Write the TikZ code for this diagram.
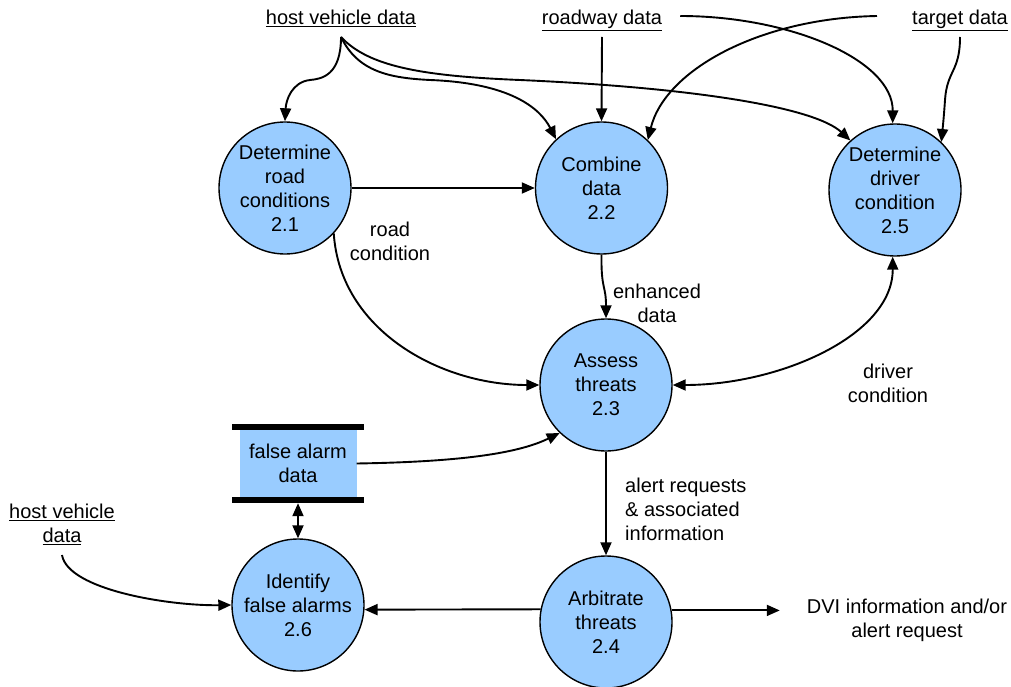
\documentclass[tikz,border=0pt]{standalone}
\usepackage{fontspec}
\setmainfont{Liberation Sans}
\usetikzlibrary{arrows.meta,calc}
\definecolor{procblue}{RGB}{153,204,255}
\begin{document}
\begin{tikzpicture}[x=1pt,y=-1pt,
  every node/.style={font=\fontsize{20}{24}\selectfont},
  proc/.style={circle,draw=black,line width=1.4pt,fill=procblue,minimum size=132pt,inner sep=0pt,align=center},
  lbl/.style={align=center,inner sep=0pt},
  src/.style={inner sep=0pt,align=center},
  flow/.style={line width=1.9pt,-{Triangle[length=13pt,width=11pt]}},
  bflow/.style={line width=1.9pt,{Triangle[length=13pt,width=11pt]}-{Triangle[length=13pt,width=11pt]}},
]
\useasboundingbox (0,0) rectangle (1011,687);

% processes
\node[proc] (c21) at (285,188) {Determine\\road\\conditions\\2.1};
\node[proc] (c22) at (601.5,188) {Combine\\data\\2.2};
\node[proc] (c25) at (895,190) {Determine\\driver\\condition\\2.5};
\node[proc] (c23) at (606,385) {Assess\\threats\\2.3};
\node[proc] (c26) at (298,605) {Identify\\false alarms\\2.6};
\node[proc] (c24) at (606,622) {Arbitrate\\threats\\2.4};

% data store
\node[fill=procblue,minimum width=117pt,minimum height=67pt,inner sep=0pt,align=center] (store) at (298,463.5) {false alarm\\data};
\fill ($(store.north west)+(-7,-6)$) rectangle ($(store.north east)+(7,0)$);
\fill ($(store.south west)+(-7,0)$) rectangle ($(store.south east)+(7,6)$);

% sources / sinks
\node[src,anchor=base] (hv) at (341,25) {\underline{host vehicle data}};
\node[src,anchor=base] (rd) at (602,25) {\underline{roadway data}};
\node[src,anchor=base] (td) at (960,25) {\underline{target data}};
\node[src] (hv2) at (62,524.5) {\underline{host vehicle}\\\underline{data}};
\node[lbl] (dvi) at (907,620) {DVI information and/or\\alert request};

% flow labels
\node[lbl] (lrc) at (390,241) {road\\condition};
\node[lbl] (led) at (657,303) {enhanced\\data};
\node[lbl] (ldc) at (888,383) {driver\\condition};
\node[lbl,align=left,anchor=west] (lar) at (625,509) {alert requests\\\& associated\\information};

% connectors from the top sources
\draw[flow] ($(hv.base)+(0,12)$) .. controls (341,75) and (322,79) .. (310,80) .. controls (292,82) and (286,100) .. (c21.north);
\draw[flow] ($(hv.base)+(0,12)$) .. controls (358,72) and (390,78) .. (430,80) .. controls (510,83) and (540,108) .. (c22.133);
\draw[flow] ($(hv.base)+(0,12)$) .. controls (368,66) and (420,76) .. (520,80) .. controls (700,88) and (815,108) .. (c25.132);
\draw[flow] ($(rd.base)+(0,12)$) -- (c22.north);
\draw[flow] ($(rd.base east)+(18,-9)$) .. controls (790,16) and (893,60) .. (c25.92);
\draw[flow] ($(td.base west)+(-35,-9)$) .. controls (760,18) and (665,70) .. (c22.46);
\draw[flow] ($(td.base)+(0,12)$) .. controls (960,72) and (947,70) .. (945,100) .. controls (944,115) and (943,125) .. (c25.46);

% process connectors
\draw[flow] (c21) -- (c22);
\draw[flow] (c21.-43) .. controls (340,330) and (440,385) .. (c23.west);
\draw[flow] (c22.south) .. controls (601,290) and (606,285) .. (c23.north);
\draw[bflow] (c23.east) .. controls (780,385) and (893,335) .. (c25.-92);
\draw[flow] (store.east) .. controls (450,462) and (515,455) .. (c23.226);
\draw[bflow,shorten <=6pt] (store.south) -- (c26.north);
\draw[flow] (c23.south) -- (c24.north);
\draw[flow] (c24.169.5) -- (c26.-4.5);
\draw[flow,shorten >=27pt] (c24.10.5) -- (c24.10.5 -| dvi.west);
\draw[flow] ($(hv2.south)+(0,10)$) .. controls (68,590) and (170,606) .. (c26.west);
\end{tikzpicture}
\end{document}
